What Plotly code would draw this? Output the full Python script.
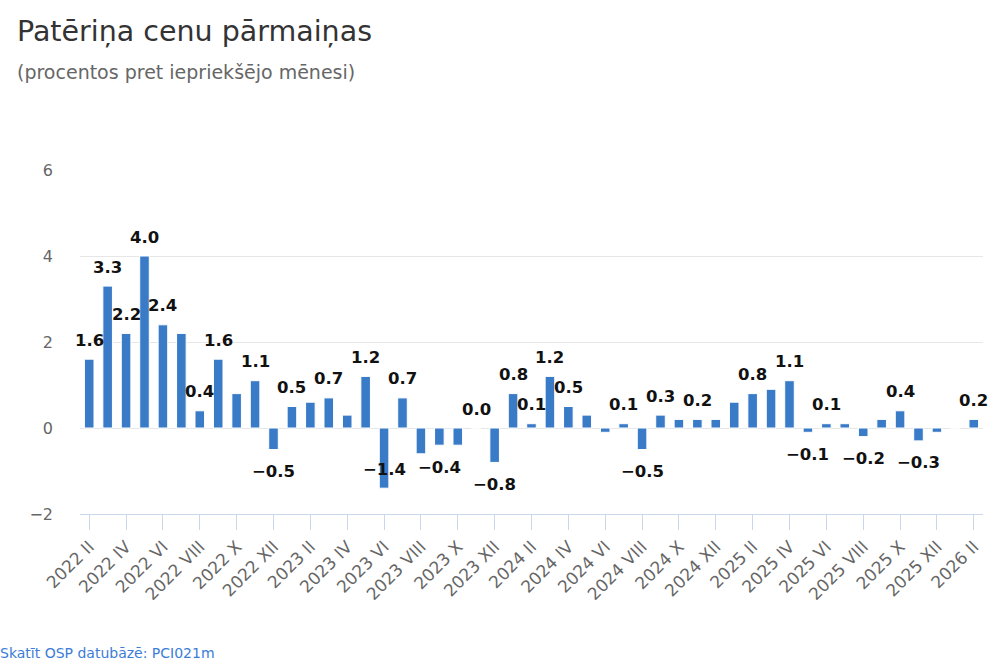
import plotly.graph_objects as go

months = ["I", "II", "III", "IV", "V", "VI", "VII", "VIII", "IX", "X", "XI", "XII"]
categories = (
    [f"2022 {m}" for m in months[1:]]
    + [f"2023 {m}" for m in months]
    + [f"2024 {m}" for m in months]
    + [f"2025 {m}" for m in months]
    + ["2026 I", "2026 II"]
)

values = [
    1.6, 3.3, 2.2, 4.0, 2.4, 2.2, 0.4, 1.6, 0.8, 1.1, -0.5,          # 2022 II-XII
    0.5, 0.6, 0.7, 0.3, 1.2, -1.4, 0.7, -0.6, -0.4, -0.4, 0.0, -0.8,  # 2023
    0.8, 0.1, 1.2, 0.5, 0.3, -0.1, 0.1, -0.5, 0.3, 0.2, 0.2, 0.2,     # 2024
    0.6, 0.8, 0.9, 1.1, -0.1, 0.1, 0.1, -0.2, 0.2, 0.4, -0.3, -0.1,   # 2025
    0.0, 0.2,                                                         # 2026
]

labelled = [
    "2022 II", "2022 III", "2022 IV", "2022 V", "2022 VI", "2022 VIII", "2022 IX",
    "2022 XI", "2022 XII", "2023 I", "2023 III", "2023 V", "2023 VI", "2023 VII",
    "2023 IX", "2023 XI", "2023 XII", "2024 I", "2024 II", "2024 III", "2024 IV",
    "2024 VII", "2024 VIII", "2024 IX", "2024 XI", "2025 II", "2025 IV", "2025 V",
    "2025 VI", "2025 VIII", "2025 X", "2025 XI", "2026 II",
]
# labels that the original draws inside the bar end instead of outside
labelled_inside = ["2023 VI"]

tick_labels = categories[::2]

title = "Patēriņa cenu pārmaiņas"
subtitle = "(procentos pret iepriekšējo mēnesi)"
footer = "Skatīt OSP datubāzē: PCI021m"

FONT = "DejaVu Sans"
ML, MR, MT, MB = 80, 17, 170, 153
W, H = 1000, 667

fig = go.Figure()
fig.add_trace(go.Bar(
    x=categories,
    y=values,
    marker=dict(color="#3a7bc8", line=dict(color="#ffffff", width=1)),
    hoverinfo="x+y",
))


def fmt(v):
    s = f"{abs(v):.1f}"
    return ("\u2212" + s) if v < 0 else s


for c, v in zip(categories, values):
    if c in labelled:
        shift = 19 if v >= 0 else -22
        if c in labelled_inside:
            shift = 19 if v < 0 else -19
        fig.add_annotation(
            x=c, y=v, xref="x", yref="y",
            text=fmt(v), showarrow=False,
            yanchor="middle",
            yshift=shift,
            font=dict(family=FONT, size=16.5, color="#111111", weight="bold"),
        )

plot_h = H - MT - MB
plot_w = W - ML - MR


def px_x(x):
    return (x - ML) / plot_w


def px_y(y):
    return (H - MB - y) / plot_h


fig.add_annotation(
    x=px_x(15), y=px_y(32), xref="paper", yref="paper", xanchor="left", yanchor="middle",
    text=title, showarrow=False,
    font=dict(family=FONT, size=28.5, color="#333333"),
)
fig.add_annotation(
    x=px_x(15), y=px_y(72), xref="paper", yref="paper", xanchor="left", yanchor="middle",
    text=subtitle, showarrow=False,
    font=dict(family=FONT, size=19, color="#666666"),
)
fig.add_annotation(
    x=px_x(-2), y=px_y(653), xref="paper", yref="paper", xanchor="left", yanchor="middle",
    text=footer, showarrow=False,
    font=dict(family=FONT, size=14, color="#3b7dd8"),
)

fig.update_layout(
    width=W, height=H,
    margin=dict(l=ML, r=MR, t=MT, b=MB, autoexpand=False),
    paper_bgcolor="#ffffff",
    plot_bgcolor="#ffffff",
    showlegend=False,
    bargap=0.48,
    font=dict(family=FONT, color="#666666"),
)

fig.update_xaxes(
    type="category",
    categoryorder="array", categoryarray=categories,
    tickmode="array", tickvals=tick_labels, ticktext=tick_labels,
    tickangle=-45,
    tickfont=dict(family=FONT, size=17, color="#666666"),
    showline=True, linecolor="#ccd6eb", linewidth=1,
    ticks="outside", ticklen=15, tickcolor="#ccd6eb",
    showgrid=False,
    automargin=False,
    range=[-0.5, len(categories) - 0.5],
)
fig.update_yaxes(
    range=[-2, 6],
    tickvals=[-2, 0, 2, 4, 6],
    tickfont=dict(family=FONT, size=16, color="#666666"),
    showgrid=True, gridcolor="#e6e6e6", gridwidth=1,
    zeroline=True, zerolinecolor="#e6e6e6", zerolinewidth=1,
    ticklabelstandoff=26,
    showline=False,
    automargin=False,
)

fig.write_html(
    "out.html",
    config={"displayModeBar": False},
    post_script="document.body.style.margin='0';document.body.style.overflow='hidden';",
)
